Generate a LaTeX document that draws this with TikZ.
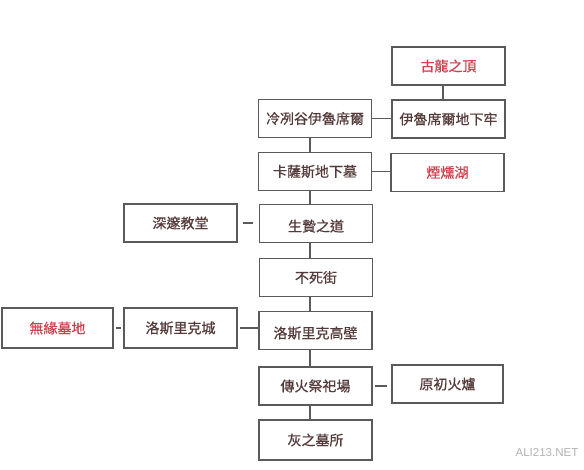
\documentclass[tikz,border=0pt]{standalone}
\usepackage{fontspec}
\setmainfont{Noto Sans CJK TC}[FakeBold=0.6]
\newfontfamily\markfont{Liberation Sans}
\definecolor{boxline}{HTML}{5A5A5A}
\definecolor{areatext}{HTML}{553A3A}
\definecolor{areared}{HTML}{D2404F}
\tikzset{
  area/.style={draw=boxline,line width=1.3pt,fill=white,minimum width=113pt,minimum height=38pt,
    inner sep=0pt,font=\fontsize{14}{16}\selectfont,text=areatext},
  hidden/.style={area,text=areared},
  lowtext/.style={text height=17pt},
  link/.style={draw=boxline,line width=1.3pt}
}
\begin{document}
\begin{tikzpicture}[x=1pt,y=-1pt]
\useasboundingbox[fill=white] (0,0) rectangle (584,469);
% right column
\node[hidden] (peak) at (448.5,66) {古龍之頂};
\node[area] (dungeon) at (448.5,119) {伊魯席爾地下牢};
\node[hidden] (lake) at (447.5,172.5) {煙燻湖};
\node[area,minimum width=111pt] (kiln) at (447.5,384) {原初火爐};
% main column
\node[area] (valley) at (315,118.5) {冷冽谷伊魯席爾};
\node[area] (catacomb) at (315,171.5) {卡薩斯地下墓};
\node[area,lowtext] (road) at (316,223.5) {生贄之道};
\node[area] (undead) at (316,277.5) {不死街};
\node[area,lowtext] (wall) at (315.5,330.5) {洛斯里克高壁};
\node[area] (shrine) at (315.5,386) {傳火祭祀場};
\node[area,minimum height=40pt] (graves) at (315.5,440) {灰之墓所};
% left columns
\node[area] (cathedral) at (180.5,223) {深邃教堂};
\node[area,minimum height=40pt] (castle) at (180.5,328) {洛斯里克城};
\node[hidden,minimum width=111pt,minimum height=40pt] (untended) at (57.5,328) {無緣墓地};
% vertical links
\draw[link] (peak.south -| 443,0) -- (dungeon.north -| 443,0);
\foreach \a/\b in {valley/catacomb,catacomb/road,road/undead,undead/wall,wall/shrine,shrine/graves}
  \draw[link] (\a.south -| 310,0) -- (\b.north -| 310,0);
% horizontal links
\draw[link] (valley.east) -- (valley.east -| dungeon.west);
\draw[link] (catacomb.east) -- (catacomb.east -| lake.west);
\draw[link,shorten <=5pt,shorten >=6pt] (cathedral.east) -- (cathedral.east -| road.west);
\draw[link,shorten <=2pt,shorten >=2pt] (untended.east) -- (untended.east -| castle.west);
\draw[link,shorten <=2pt] (castle.east) -- (castle.east -| wall.west);
\draw[link,shorten <=2pt,shorten >=4pt] (shrine.east) -- (shrine.east -| kiln.west);
% watermark
\node[font=\markfont\fontsize{11.5}{12}\selectfont,text=black!30] (mark) at (547,453) {ALI213.NET};
\end{tikzpicture}
\end{document}
